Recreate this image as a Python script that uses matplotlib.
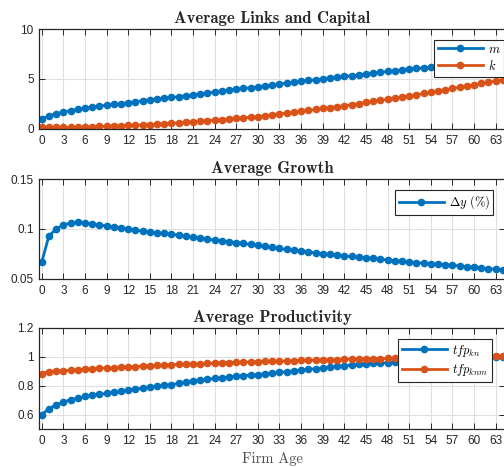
import numpy as np
import matplotlib
matplotlib.use('Agg')
import matplotlib.pyplot as plt

plt.rcParams['mathtext.fontset'] = 'cm'
plt.rcParams['font.family'] = ['Liberation Sans', 'DejaVu Sans']

age = list(range(65))

links_m = [1.00, 1.30, 1.50, 1.70, 1.83, 1.97, 2.07, 2.17, 2.28, 2.38,
           2.45, 2.53, 2.63, 2.72, 2.82, 2.92, 3.02, 3.10, 3.15, 3.23,
           3.32, 3.40, 3.50, 3.60, 3.70, 3.80, 3.88, 3.97, 4.05, 4.12,
           4.20, 4.30, 4.40, 4.50, 4.60, 4.70, 4.78, 4.85, 4.92, 5.00,
           5.08, 5.17, 5.25, 5.33, 5.42, 5.50, 5.58, 5.67, 5.75, 5.82,
           5.90, 5.98, 6.05, 6.12, 6.20, 6.28, 6.36, 6.45, 6.52, 6.58,
           6.65, 6.73, 6.80, 6.88, 6.95]
capital_k = [0.15, 0.15, 0.15, 0.15, 0.16, 0.17, 0.18, 0.22, 0.25, 0.28,
             0.30, 0.33, 0.35, 0.37, 0.40, 0.43, 0.48, 0.53, 0.57, 0.62,
             0.67, 0.72, 0.78, 0.83, 0.88, 0.93, 0.99, 1.05, 1.12, 1.18,
             1.24, 1.32, 1.42, 1.52, 1.60, 1.68, 1.76, 1.85, 1.95, 2.05,
             2.14, 2.23, 2.32, 2.43, 2.54, 2.65, 2.75, 2.86, 2.97, 3.07,
             3.18, 3.30, 3.42, 3.55, 3.68, 3.80, 3.93, 4.05, 4.17, 4.30,
             4.42, 4.55, 4.67, 4.80, 4.90]
growth = [0.0667, 0.0930, 0.1000, 0.1040, 0.1060, 0.1065, 0.1058, 0.1052, 0.1040, 0.1030,
          0.1018, 0.1012, 0.1002, 0.0990, 0.0978, 0.0967, 0.0962, 0.0955, 0.0947, 0.0937,
          0.0927, 0.0917, 0.0908, 0.0898, 0.0890, 0.0880, 0.0872, 0.0863, 0.0855, 0.0845,
          0.0835, 0.0825, 0.0815, 0.0805, 0.0795, 0.0785, 0.0775, 0.0770, 0.0760, 0.0753,
          0.0745, 0.0738, 0.0730, 0.0725, 0.0718, 0.0713, 0.0705, 0.0698, 0.0690, 0.0683,
          0.0675, 0.0667, 0.0663, 0.0658, 0.0653, 0.0648, 0.0643, 0.0637, 0.0630, 0.0623,
          0.0617, 0.0610, 0.0603, 0.0597, 0.0590]
tfp_kn = [0.600, 0.640, 0.668, 0.685, 0.703, 0.712, 0.726, 0.733, 0.740, 0.746,
          0.753, 0.760, 0.770, 0.776, 0.782, 0.789, 0.796, 0.802, 0.808, 0.816,
          0.824, 0.831, 0.838, 0.844, 0.850, 0.855, 0.860, 0.865, 0.869, 0.873,
          0.877, 0.883, 0.888, 0.893, 0.897, 0.902, 0.907, 0.913, 0.918, 0.923,
          0.929, 0.934, 0.939, 0.944, 0.948, 0.952, 0.955, 0.957, 0.959, 0.962,
          0.965, 0.968, 0.971, 0.974, 0.977, 0.980, 0.983, 0.986, 0.988, 0.990,
          0.992, 0.994, 0.996, 0.998, 1.000]
tfp_knm = [0.884, 0.897, 0.901, 0.904, 0.907, 0.910, 0.914, 0.917, 0.920, 0.923,
           0.925, 0.928, 0.931, 0.933, 0.936, 0.938, 0.940, 0.942, 0.945, 0.947,
           0.949, 0.951, 0.953, 0.954, 0.956, 0.958, 0.960, 0.962, 0.963, 0.965,
           0.966, 0.968, 0.969, 0.971, 0.972, 0.973, 0.975, 0.976, 0.977, 0.979,
           0.980, 0.981, 0.983, 0.984, 0.985, 0.986, 0.987, 0.988, 0.989, 0.990,
           0.991, 0.992, 0.993, 0.994, 0.995, 0.996, 0.997, 0.998, 0.999, 1.000,
           1.001, 1.002, 1.003, 1.004, 1.005]

xticks = list(range(0, 64, 3))
blue = '#0072BD'
orange = '#D95319'
dark = '#262626'

fig = plt.figure(figsize=(5.04, 4.67), dpi=100)
left, width = 0.078, 0.924
ax1 = fig.add_axes([left, 0.7238, width, 0.2141])
ax2 = fig.add_axes([left, 0.4026, width, 0.2141])
ax3 = fig.add_axes([left, 0.0814, width, 0.2163])


def style(ax, yticks, ylabels, ylim, title):
    ax.set_xlim(-0.33, 64.3)
    ax.set_ylim(*ylim)
    ax.set_xticks(xticks)
    ax.set_yticks(yticks)
    ax.set_yticklabels(ylabels)
    ax.grid(True, color='#e0e0e0', linewidth=0.8)
    ax.set_axisbelow(True)
    ax.tick_params(direction='in', top=True, right=True, length=4, width=0.7,
                   colors=dark, labelsize=8.5, pad=4)
    for s in ax.spines.values():
        s.set_color(dark)
        s.set_linewidth(0.9)
    ax.set_title(title, family='cmb10', fontsize=12, color=dark, pad=4)


kw = dict(marker='o', markersize=4.5, linewidth=2)

ax1.plot(age, links_m, color=blue, label='$m$', **kw)
ax1.plot(age, capital_k, color=orange, label='$k$', **kw)
style(ax1, [0, 5, 10], ['0', '5', '10'], (0, 10), 'Average Links and Capital')

ax2.plot(age, growth, color=blue, label=r'$\Delta y\ (\%)$', **kw)
style(ax2, [0.05, 0.1, 0.15], ['0.05', '0.1', '0.15'], (0.05, 0.15), 'Average Growth')

ax3.plot(age, tfp_kn, color=blue, label='$tfp_{kn}$', **kw)
ax3.plot(age, tfp_knm, color=orange, label='$tfp_{knm}$', **kw)
style(ax3, [0.6, 0.8, 1.0, 1.2], ['0.6', '0.8', '1', '1.2'], (0.5, 1.2), 'Average Productivity')
ax3.set_xlabel('Firm Age', family='cmr10', fontsize=10.5, color='#4d4d4d', labelpad=4)

legkw = dict(fancybox=False, edgecolor=dark, framealpha=1, fontsize=9,
             handlelength=3.6, borderpad=0.3, labelspacing=0.25,
             handletextpad=0.4, borderaxespad=0)
leg = ax1.legend(loc='upper right', bbox_to_anchor=(0.998, 0.89), **legkw)
leg.get_frame().set_linewidth(0.8)
leg = ax2.legend(loc='upper right', bbox_to_anchor=(0.975, 0.89), **legkw)
leg.get_frame().set_linewidth(0.8)
leg = ax3.legend(loc='upper right', bbox_to_anchor=(0.971, 0.89), **legkw)
leg.get_frame().set_linewidth(0.8)

fig.savefig('out.png', dpi=100)
